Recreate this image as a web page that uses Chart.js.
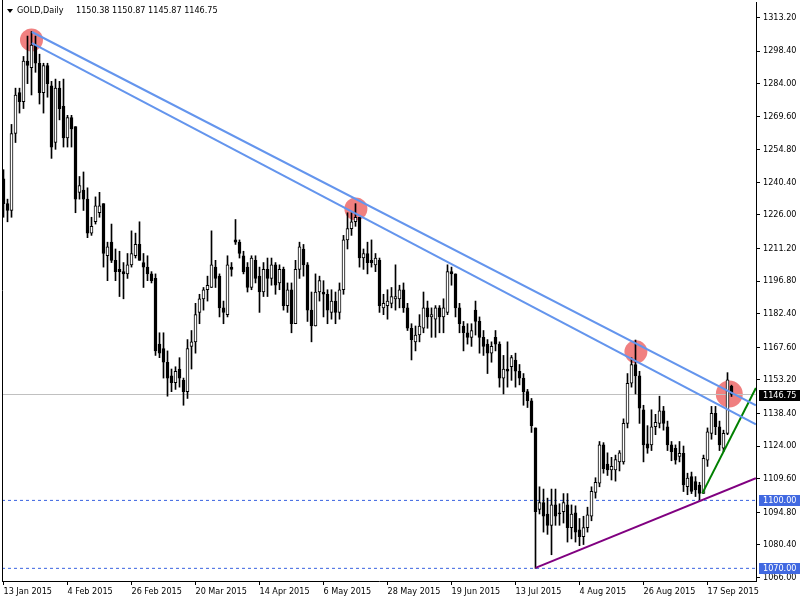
<!DOCTYPE html>
<html>
<head>
<meta charset="utf-8">
<script src="https://cdn.jsdelivr.net/npm/chart.js@4.4.1/dist/chart.umd.min.js"></script>
<style>
  html, body { margin: 0; padding: 0; background: #fff; }
  canvas { display: block; }
</style>
</head>
<body>
<canvas id="chart" width="800" height="600"></canvas>
<script>
// GOLD daily candles, 13 Jan 2015 .. 25 Sep 2015 (one entry per bar)
const symbol = "GOLD,Daily";

const opens = [
  1242, 1231, 1228, 1262, 1280, 1276, 1294, 1291, 1301, 1293,
  1280, 1292, 1283, 1258, 1282, 1274, 1260, 1269, 1265, 1236,
  1237, 1233, 1218, 1223, 1227, 1231, 1208, 1214, 1206, 1202,
  1201, 1200, 1204, 1208, 1213, 1205, 1203, 1200, 1198, 1169,
  1167, 1161, 1155, 1152, 1158, 1153, 1148, 1168, 1170, 1183,
  1189, 1193, 1194, 1203, 1199, 1185, 1182, 1203, 1215, 1214,
  1208, 1203, 1194, 1206, 1199, 1192, 1202, 1198, 1204, 1196,
  1202, 1186, 1193, 1178, 1202, 1211, 1204, 1184, 1177, 1192,
  1192, 1191, 1183, 1188, 1183, 1193, 1215, 1220, 1223, 1225,
  1207, 1209, 1206, 1204, 1206, 1185, 1186, 1187, 1189, 1189,
  1193, 1185, 1176, 1170, 1173, 1176, 1185, 1181, 1180, 1185,
  1181, 1183, 1201, 1200, 1185, 1177, 1174, 1172, 1184, 1179,
  1172, 1169, 1165, 1172, 1169, 1154, 1158, 1159, 1162, 1157,
  1154, 1148, 1144, 1132, 1096, 1099, 1094, 1089, 1098, 1094.5,
  1095, 1098, 1088, 1094.5, 1087, 1084, 1088, 1093, 1103.5, 1107.6,
  1124.5, 1116, 1113.4, 1113.4, 1117, 1117, 1134, 1151.7, 1160, 1155,
  1140, 1125, 1124.5, 1132.5, 1134, 1139.5, 1132.5, 1124.5, 1123, 1119.4,
  1120.8, 1106.1, 1110.5, 1108.3, 1106.8, 1103.1, 1117.8, 1129.6, 1138.4, 1132.5,
  1123, 1129.6, 1150.38
];

const highs = [
  1246, 1233, 1266, 1282, 1282, 1296, 1305, 1307, 1305, 1297,
  1293, 1293, 1285, 1286, 1285, 1286, 1270, 1270, 1265, 1243,
  1245, 1238, 1225, 1234, 1236, 1231, 1214, 1222, 1211, 1210,
  1205, 1209, 1219, 1218, 1223, 1209, 1208, 1201, 1200, 1174,
  1174, 1166, 1158, 1159, 1163, 1154, 1171, 1175, 1187, 1191,
  1194, 1199, 1219, 1206, 1200, 1188, 1208, 1205, 1224, 1215,
  1210, 1205, 1208, 1208, 1203, 1205, 1207, 1207, 1205, 1204,
  1203, 1196, 1196, 1206, 1214, 1213, 1205, 1192, 1200, 1199,
  1197, 1193, 1193, 1192, 1196, 1217, 1227, 1227, 1231, 1225,
  1211, 1214, 1215, 1209, 1207, 1191, 1193, 1194, 1204, 1195,
  1196, 1187, 1178, 1177, 1182, 1192, 1188, 1185, 1186, 1186,
  1189, 1204, 1203, 1200, 1187, 1179, 1178, 1178, 1188, 1181,
  1175, 1171, 1170, 1175, 1170, 1164, 1170, 1164, 1165, 1160,
  1156, 1149, 1145, 1132, 1106, 1105, 1101, 1105, 1105, 1098.5,
  1103, 1103, 1098, 1097.6, 1092, 1093, 1097, 1106, 1110, 1126,
  1125.5, 1121, 1119, 1120, 1122, 1136, 1156, 1163, 1170.8, 1157,
  1142, 1133, 1140, 1138, 1146, 1141.5, 1135, 1126, 1124.5, 1126,
  1124, 1112, 1112.5, 1110.5, 1108, 1120, 1132, 1141.5, 1141.5, 1135,
  1131, 1156.4, 1150.87
];

const lows = [
  1225, 1223, 1225, 1258, 1271, 1273, 1284, 1279, 1289, 1275,
  1271, 1278, 1251, 1255, 1268, 1256, 1256, 1256, 1227, 1233,
  1228, 1216, 1217, 1222, 1225, 1203, 1197, 1205, 1197, 1190,
  1189, 1198, 1203, 1207, 1206, 1194, 1197, 1196, 1164, 1163,
  1154, 1146, 1148, 1149, 1150, 1142, 1145, 1158, 1165, 1178,
  1184, 1188, 1194, 1194, 1181, 1178, 1181, 1199, 1213, 1207,
  1200, 1192, 1193, 1196, 1183, 1190, 1190, 1195, 1191, 1193,
  1184, 1183, 1174, 1178, 1198, 1199, 1179, 1170, 1177, 1188,
  1181, 1178, 1180, 1178, 1180, 1191, 1211, 1217, 1221, 1203,
  1202, 1200, 1203, 1201, 1183, 1182, 1180, 1185, 1184, 1185,
  1183, 1175, 1162, 1166, 1170, 1174, 1176, 1172, 1172, 1174,
  1174, 1182, 1195, 1181, 1174, 1166, 1169, 1168, 1173, 1165,
  1164, 1156, 1161, 1166, 1150, 1147, 1150, 1153, 1150, 1151,
  1142, 1141, 1130, 1070, 1094, 1086, 1085, 1076, 1089, 1089,
  1090, 1081.6, 1083, 1081.6, 1080, 1080.5, 1086, 1091, 1101, 1106,
  1112, 1111, 1109, 1108.5, 1113, 1116, 1132, 1150, 1147, 1134,
  1117, 1120.8, 1122, 1129, 1132, 1131, 1122, 1117.5, 1116, 1117,
  1103.9, 1102.5, 1103, 1101.7, 1100.2, 1103.1, 1115, 1127, 1129, 1122,
  1121.5, 1129, 1145.87
];

const closes = [
  1231, 1228, 1262, 1279, 1276, 1294, 1292, 1301, 1293, 1280,
  1292, 1284, 1256, 1282, 1273, 1260, 1269, 1264, 1233, 1239,
  1233, 1218, 1221, 1230, 1230, 1209, 1212, 1206, 1201, 1201,
  1200, 1204, 1209, 1213, 1206, 1203, 1200, 1197, 1166, 1165,
  1161, 1154, 1152, 1157, 1154, 1148, 1167, 1170, 1182, 1189,
  1193, 1195, 1204, 1198, 1185, 1183, 1204, 1202, 1214, 1209,
  1201, 1194, 1207, 1198, 1192, 1202, 1198, 1204, 1195, 1202,
  1186, 1193, 1178, 1202, 1212, 1204, 1184, 1177, 1192, 1197,
  1191, 1184, 1188, 1183, 1193, 1215, 1220, 1223, 1225, 1207,
  1209, 1205, 1205, 1207, 1186, 1187, 1188, 1190, 1190, 1193,
  1185, 1176, 1171, 1173, 1177, 1185, 1181, 1182, 1185, 1181,
  1185, 1201, 1200, 1185, 1178, 1174, 1172, 1175, 1179, 1172,
  1168, 1165, 1168, 1169, 1154, 1158, 1157, 1163, 1157, 1154,
  1148, 1144, 1133, 1095, 1099, 1093, 1089, 1098, 1093, 1094,
  1099, 1088, 1094, 1086, 1084, 1088, 1093.6, 1104, 1108, 1124.5,
  1114, 1113.4, 1115, 1118, 1121, 1134, 1151.7, 1160, 1155, 1140.7,
  1124.5, 1123, 1132.5, 1134.5, 1139.5, 1134, 1124.5, 1121.5, 1117.8, 1120.8,
  1106.8, 1109.8, 1104, 1104.6, 1103.1, 1118.6, 1130.3, 1138.4, 1132.5, 1124.5,
  1129.6, 1153.2, 1146.75
];

// one date label every 16 bars, starting at bar 0
const xTickLabels = [
  "13 Jan 2015", "4 Feb 2015", "26 Feb 2015", "20 Mar 2015", "14 Apr 2015", "6 May 2015",
  "28 May 2015", "19 Jun 2015", "13 Jul 2015", "4 Aug 2015", "26 Aug 2015", "17 Sep 2015"
];
const xTickStep = 16;

const yTicks = [
  1313.2, 1298.4, 1284.0, 1269.6, 1254.8, 1240.4, 1226.0, 1211.2, 1196.8,
  1182.4, 1167.6, 1153.2, 1138.4, 1124.0, 1109.6, 1094.8, 1080.4, 1066.0
];

const bidLevel = 1146.75;
const levels = [1100.0, 1070.0];

// trend lines as [bar, price] pairs
const upperChannel = [[7.1, 1306.8], [188.1, 1142.0]];
const lowerChannel = [[7.1, 1301.9], [188.1, 1133.6]];
const supportLine = [[133, 1070.2], [188.1, 1109.8]];
const riseLine = [[174.7, 1103.1], [188.1, 1149.6]];

// highlighted touches [bar, price]
const touches = [[7, 1303.3], [88.1, 1228.7], [158.1, 1165.6], [181.45, 1147.0]];

const xMin = -0.375, xMax = 188.125;
const yMin = 1064.41, yMax = 1320.04;

const FONT = { family: "'DejaVu Sans Condensed', 'DejaVu Sans', sans-serif", size: 9 };

const bodyData = closes.map((c, i) => ({ x: i, y: [opens[i], c] }));
const wickData = closes.map((_, i) => ({ x: i, y: [lows[i], highs[i]] }));
const bodyFill = closes.map((c, i) => (c >= opens[i] ? "#ffffff" : "#000000"));
const pts = arr => arr.map(([x, y]) => ({ x, y }));
const flat = v => [{ x: xMin, y: v }, { x: xMax, y: v }];

const trend = (data, color) => ({
  type: "line", data: pts(data), borderColor: color, borderWidth: 2,
  pointRadius: 0, fill: false, order: 1
});

const overlay = {
  id: "overlay",
  afterDraw(chart) {
    const { ctx, chartArea, scales } = chart;
    const y = scales.y;
    ctx.save();
    // left frame
    ctx.strokeStyle = "#000";
    ctx.lineWidth = 1;
    ctx.beginPath();
    ctx.moveTo(chartArea.left + 0.5, 0);
    ctx.lineTo(chartArea.left + 0.5, chartArea.bottom);
    ctx.stroke();

    // header
    const last = closes.length - 1;
    ctx.fillStyle = "#000";
    ctx.beginPath();
    ctx.moveTo(7, 9); ctx.lineTo(13, 9); ctx.lineTo(10, 13); ctx.closePath();
    ctx.fill();
    ctx.font = FONT.size + "px " + FONT.family;
    ctx.textBaseline = "middle";
    ctx.textAlign = "left";
    ctx.fillText(symbol, 17, 11);
    const ohlc = [opens[last], highs[last], lows[last], closes[last]].map(v => v.toFixed(2)).join(" ");
    ctx.fillText(ohlc, 76, 11);

    // price boxes on the axis
    const box = (v, bg) => {
      const py = Math.round(y.getPixelForValue(v));
      ctx.fillStyle = bg;
      ctx.fillRect(chartArea.right + 3, py - 5, chart.width - chartArea.right - 3, 11);
      ctx.fillStyle = "#fff";
      ctx.fillText(v.toFixed(2), chartArea.right + 7, py + 0.5);
    };
    levels.forEach(v => box(v, "#4169e1"));
    box(bidLevel, "#000");
    ctx.restore();
  }
};

new Chart(document.getElementById("chart"), {
  type: "bar",
  data: {
    datasets: [
      {
        type: "line", data: pts(touches), showLine: false,
        pointRadius: [11.5, 11.5, 11.5, 13.5], pointBackgroundColor: "#f08080",
        pointBorderWidth: 0, order: 10
      },
      {
        type: "line", data: flat(bidLevel), borderColor: "#c0c0c0", borderWidth: 1,
        pointRadius: 0, order: 9
      },
      ...levels.map(v => ({
        type: "line", data: flat(v), borderColor: "#3a63e0", borderWidth: 1,
        borderDash: [3, 3], pointRadius: 0, order: 9
      })),
      {
        data: wickData, backgroundColor: "#000", borderWidth: 0,
        barThickness: 1, grouped: false, order: 8
      },
      {
        data: bodyData, backgroundColor: bodyFill, borderColor: "#000",
        borderWidth: 1, borderSkipped: false, barThickness: 3, minBarLength: 1,
        grouped: false, order: 7
      },
      trend(upperChannel, "#6495ed"),
      trend(lowerChannel, "#6495ed"),
      trend(supportLine, "#800080"),
      trend(riseLine, "#008000")
    ]
  },
  options: {
    responsive: false,
    animation: false,
    events: [],
    layout: { autoPadding: false, padding: { left: 2, top: 2, right: 0, bottom: 0 } },
    plugins: { legend: { display: false }, tooltip: { enabled: false } },
    scales: {
      x: {
        type: "linear", position: "bottom", min: xMin, max: xMax, bounds: "data",
        offset: false,
        grid: { drawOnChartArea: false, offset: false, tickLength: 4, color: "#000" },
        border: { display: true, color: "#000" },
        ticks: {
          autoSkip: false, maxRotation: 0, minRotation: 0, align: "start",
          padding: 1, color: "#000", font: FONT,
          callback: v => xTickLabels[Math.round(v / xTickStep)]
        },
        afterBuildTicks: axis => {
          axis.ticks = xTickLabels.map((_, k) => ({ value: k * xTickStep }));
        },
        afterFit: s => { s.height = 19; s.paddingLeft = 0; s.paddingRight = 0; }
      },
      y: {
        type: "linear", position: "right", min: yMin, max: yMax, bounds: "data",
        grid: { drawOnChartArea: false, tickLength: 4, color: "#000" },
        border: { display: true, color: "#000" },
        ticks: {
          autoSkip: false, padding: 3, color: "#000", font: FONT,
          callback: v => v.toFixed(2)
        },
        afterBuildTicks: axis => {
          axis.ticks = yTicks.map(v => ({ value: v }));
        },
        afterFit: s => { s.width = 44; s.paddingTop = 0; s.paddingBottom = 0; }
      }
    }
  },
  plugins: [overlay]
});
</script>
</body>
</html>
